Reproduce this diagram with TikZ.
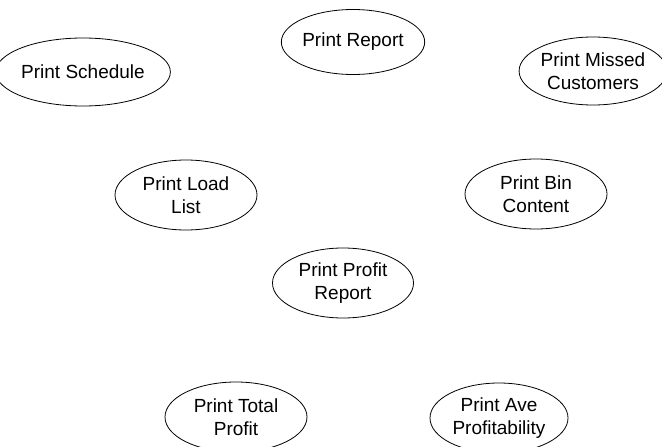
\documentclass[tikz,border=0pt]{standalone}
\usepackage{fontspec}
\setmainfont{Liberation Sans}
\usetikzlibrary{shapes.geometric}

\tikzset{
  usecase/.style={ellipse, draw=black, line width=0.8pt, inner sep=0pt,
    minimum width=142pt, minimum height=70pt, align=center,
    font=\fontsize{19pt}{23pt}\selectfont}
}

\begin{document}
\begin{tikzpicture}[x=1pt, y=-1pt]
  \useasboundingbox[fill=white] (0,0) rectangle (662,447);

  \node[usecase, minimum height=68pt] (schedule) at (83,72) {Print Schedule};
  \node[usecase, minimum width=140pt, minimum height=65pt] (report) at (353,42) {Print Report};
  \node[usecase, minimum width=134pt, minimum height=68pt] (missed) at (593,71) {Print Missed\\Customers};

  \node[usecase] (loadlist) at (186,195) {Print Load\\List};
  \node[usecase] (bincontent) at (536,194) {Print Bin\\Content};

  \node[usecase, minimum width=141pt] (profitreport) at (343,283) {Print Profit\\Report};

  \node[usecase] (totalprofit) at (236,417) {Print Total\\Profit};
  \node[usecase, minimum width=138pt] (aveprofit) at (499,418) {Print Ave\\Profitability};
\end{tikzpicture}
\end{document}
